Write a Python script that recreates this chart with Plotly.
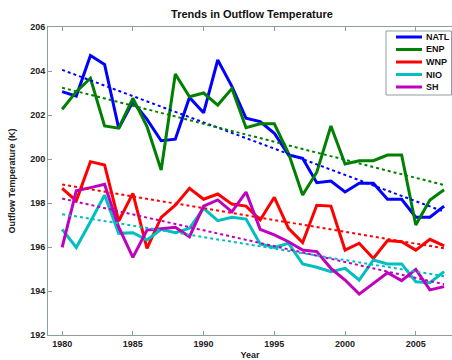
import numpy as np
import plotly.graph_objects as go

years = list(range(1980, 2008))

natl = [203.06, 202.86, 204.7, 204.3, 201.4, 202.6, 201.8, 200.83, 200.9, 202.8,
        202.1, 204.5, 203.3, 201.85, 201.7, 201.17, 200.18, 200.03, 198.92, 199.0,
        198.5, 198.9, 198.9, 198.17, 198.17, 197.35, 197.35, 197.86]
enp = [202.26, 203.06, 203.67, 201.5, 201.4, 202.76, 201.47, 199.5, 203.86, 202.83,
       203.0, 202.45, 203.2, 201.42, 201.6, 201.6, 200.26, 198.36, 199.4, 201.5,
       199.77, 199.92, 199.92, 200.18, 200.18, 197.0, 198.14, 198.6]
wnp = [198.67, 198.1, 199.88, 199.73, 197.18, 198.44, 195.94, 197.35, 197.9, 198.67,
       198.17, 198.41, 197.95, 197.86, 197.23, 198.26, 196.85, 196.2, 197.9, 197.86,
       195.86, 196.17, 195.48, 196.29, 196.24, 195.86, 196.35, 196.05]
nio = [196.8, 195.98, 197.15, 198.36, 196.62, 196.65, 196.32, 196.8, 196.65, 196.85,
       197.76, 197.2, 197.35, 197.27, 196.14, 195.98, 196.17, 195.23, 195.08, 194.88,
       195.03, 194.5, 195.41, 195.23, 195.23, 194.42, 194.38, 194.88]
sh = [195.98, 198.56, 198.7, 198.85, 196.9, 195.53, 196.77, 196.85, 196.9, 196.47,
      197.86, 198.14, 197.6, 198.5, 196.8, 196.55, 196.24, 195.86, 195.79, 195.03,
      194.5, 193.86, 194.35, 194.83, 194.47, 194.98, 194.05, 194.2]

series = [
    ("NATL", natl, "#0000ff"),
    ("ENP", enp, "#008000"),
    ("WNP", wnp, "#ff0000"),
    ("NIO", nio, "#00bfbf"),
    ("SH", sh, "#bf00bf"),
]

fig = go.Figure()

# Annual series (solid)
for name, vals, color in series:
    fig.add_trace(go.Scatter(x=years, y=vals, mode="lines", name=name,
                             line=dict(color=color, width=3)))

# Least-squares linear trend for each basin (dotted)
x_arr = np.array(years, dtype=float)
for name, vals, color in series:
    slope, intercept = np.polyfit(x_arr, np.array(vals), 1)
    fig.add_trace(go.Scatter(x=years, y=slope * x_arr + intercept, mode="lines",
                             showlegend=False, hoverinfo="skip",
                             line=dict(color=color, width=2, dash="dot")))

axis_color = "#8e9e9e"
font_family = "Liberation Sans, Arial, sans-serif"

# Plot-area geometry in pixels, used to place the compact legend box
W, H = 452, 360
ML, MR, MT, MB = 48, 0, 27, 25
pw, ph = W - ML - MR, H - MT - MB


def px(xp):
    return (xp - ML) / pw


def py(yp):
    return 1 - (yp - MT) / ph


shapes = [dict(type="rect", xref="paper", yref="paper",
               x0=px(386), x1=px(451.5), y0=py(95), y1=py(31),
               line=dict(color=axis_color, width=1), fillcolor="white", layer="above")]
annotations = []
row0, row_step = 37, 12.5
for i, (name, _, color) in enumerate(series):
    yy = row0 + i * row_step
    shapes.append(dict(type="line", xref="paper", yref="paper",
                       x0=px(396), x1=px(422), y0=py(yy), y1=py(yy),
                       line=dict(color=color, width=3), layer="above"))
    annotations.append(dict(xref="paper", yref="paper", x=px(423.5), y=py(yy),
                            text=f"<b>{name}</b>", showarrow=False,
                            xanchor="left", yanchor="middle",
                            font=dict(size=9, color="#111111")))

fig.update_layout(
    width=W, height=H,
    margin=dict(l=ML, r=MR, t=MT, b=MB),
    paper_bgcolor="white", plot_bgcolor="white",
    font=dict(family=font_family, size=9, color="#222222"),
    title=dict(text="<b>Trends in Outflow Temperature</b>",
               x=252 / W, xref="container", xanchor="center",
               y=1 - 14 / H, yref="container", yanchor="middle",
               font=dict(size=11, color="#111111")),
    showlegend=False,
    shapes=shapes,
    annotations=annotations,
)

fig.update_xaxes(
    range=[1979.0, 2007.56], tickmode="array", tickvals=[1980, 1985, 1990, 1995, 2000, 2005],
    ticks="inside", ticklen=4, tickcolor=axis_color, showline=True, linecolor=axis_color,
    linewidth=1, mirror="ticks", showgrid=False, zeroline=False,
    tickfont=dict(size=9, weight="bold", color="#222222"),
    title=dict(text="<b>Year</b>", standoff=4, font=dict(size=9, color="#222222")),
)
fig.update_yaxes(
    range=[192, 206], tickmode="array", tickvals=list(range(192, 207, 2)),
    ticks="inside", ticklen=4, tickcolor=axis_color, showline=True, linecolor=axis_color,
    linewidth=1, mirror=False, showgrid=False, zeroline=False,
    tickfont=dict(size=9, weight="bold", color="#222222"),
    title=dict(text="<b>Outflow Temperature (K)</b>", standoff=13,
               font=dict(size=9, color="#222222")),
)

fig.write_html("out.html")
